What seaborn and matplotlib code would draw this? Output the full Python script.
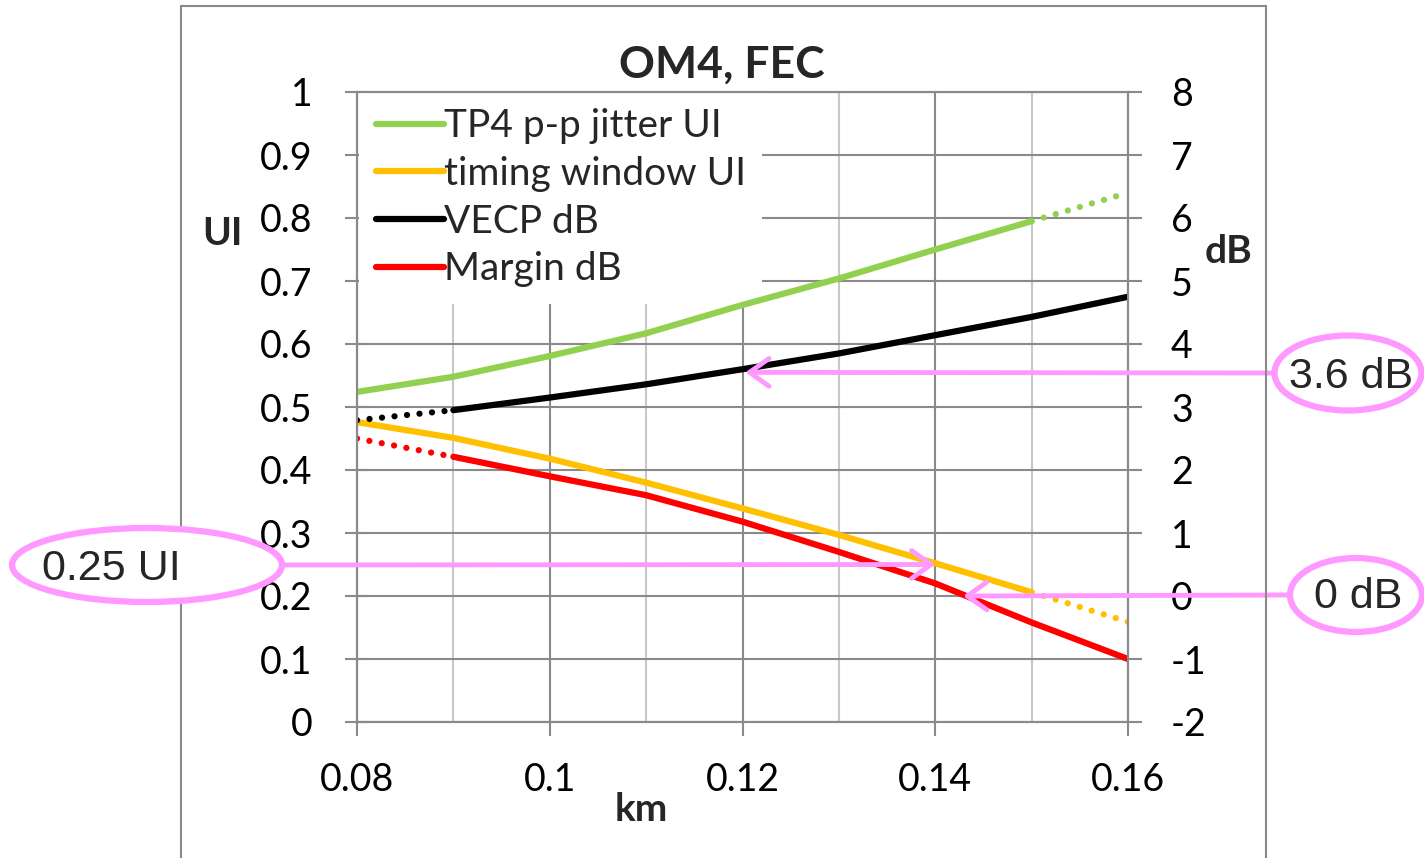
import numpy as np
import pandas as pd
import matplotlib
matplotlib.use("Agg")
import matplotlib.pyplot as plt
import matplotlib.ticker as mticker
from matplotlib.patches import Ellipse, Rectangle
import seaborn as sns

# values
km = [0.08, 0.09, 0.10, 0.11, 0.12, 0.13, 0.14, 0.15, 0.16]
jitter_ui = [0.524, 0.548, 0.581, 0.617, 0.662, 0.704, 0.750, 0.795, 0.840]
timing_ui = [0.476, 0.451, 0.418, 0.380, 0.339, 0.297, 0.252, 0.206, 0.159]
vecp_db = [2.79, 2.95, 3.15, 3.36, 3.60, 3.85, 4.14, 4.43, 4.75]
margin_db = [2.50, 2.21, 1.90, 1.60, 1.18, 0.70, 0.20, -0.42, -1.00]

ui_ticks = [0, 0.1, 0.2, 0.3, 0.4, 0.5, 0.6, 0.7, 0.8, 0.9, 1]
db_ticks = [-2, -1, 0, 1, 2, 3, 4, 5, 6, 7, 8]
km_ticks = [0.08, 0.10, 0.12, 0.14, 0.16]
km_minor = [0.09, 0.11, 0.13, 0.15]

# callouts: label, arrow tip (x km, y value), axis of the value
callout_text = ["3.6 dB", "0.25 UI", "0 dB"]
callout_tip = [(0.1203, 3.55), (0.14, 0.25), (0.1429, 0.0)]
callout_axis = ["dB", "UI", "dB"]

GREEN = "#92D050"
ORANGE = "#FFC000"
BLACK = "#000000"
RED = "#FF0000"
PINK = "#FF99FF"
GRID = "#8a8a8a"
MINOR = "#c8c8c8"

W, H = 1424, 858


def fx(px):
    return px / W


def fy(py):
    return 1 - py / H


def main():
    sns.set_theme(style="white")
    plt.rcParams["font.family"] = ["Lato", "DejaVu Sans"]

    df = pd.DataFrame({"km": km, "jitter": jitter_ui, "timing": timing_ui,
                       "vecp": vecp_db, "margin": margin_db})

    fig = plt.figure(figsize=(W / 100, H / 100), dpi=100)
    ax = fig.add_axes([fx(357), fy(722), fx(1128) - fx(357), fy(92) - fy(722)])
    ax2 = ax.twinx()

    lw = 4.5
    dots = (0, (0.01, 2.0))
    sns.lineplot(data=df.iloc[:8], x="km", y="jitter", ax=ax, color=GREEN, lw=lw,
                 label="TP4 p-p jitter UI", solid_capstyle="round", zorder=3)
    sns.lineplot(data=df.iloc[7:], x="km", y="jitter", ax=ax, color=GREEN, lw=lw,
                 linestyle=dots, dash_capstyle="round", label="_nolegend_", zorder=3)
    sns.lineplot(data=df.iloc[:8], x="km", y="timing", ax=ax, color=ORANGE, lw=lw,
                 label="timing window UI", solid_capstyle="round", zorder=3)
    sns.lineplot(data=df.iloc[7:], x="km", y="timing", ax=ax, color=ORANGE, lw=lw,
                 linestyle=dots, dash_capstyle="round", label="_nolegend_", zorder=3)
    sns.lineplot(data=df.iloc[1:], x="km", y="vecp", ax=ax2, color=BLACK, lw=lw,
                 label="VECP dB", solid_capstyle="round")
    sns.lineplot(data=df.iloc[:2], x="km", y="vecp", ax=ax2, color=BLACK, lw=lw,
                 linestyle=dots, dash_capstyle="round", label="_nolegend_")
    sns.lineplot(data=df.iloc[1:], x="km", y="margin", ax=ax2, color=RED, lw=lw,
                 label="Margin dB", solid_capstyle="round")
    sns.lineplot(data=df.iloc[:2], x="km", y="margin", ax=ax2, color=RED, lw=lw,
                 linestyle=dots, dash_capstyle="round", label="_nolegend_")

    for a in (ax, ax2):
        if a.get_legend() is not None:
            a.get_legend().remove()
        a.set_xlabel("")
        a.set_ylabel("")

    ax.set_xlim(0.08, 0.16)
    ax.set_ylim(0, 1)
    ax2.set_ylim(-2, 8)
    ax.set_xticks(km_ticks)
    ax.set_xticks(km_minor, minor=True)
    ax.set_yticks(ui_ticks)
    ax2.set_yticks(db_ticks)
    fmt = mticker.FuncFormatter(lambda v, p: f"{v:g}")
    ax.xaxis.set_major_formatter(fmt)
    ax.yaxis.set_major_formatter(fmt)
    ax2.yaxis.set_major_formatter(fmt)

    ax.grid(which="major", axis="both", color=GRID, lw=1.5)
    ax.grid(which="minor", axis="x", color=MINOR, lw=1.5)
    ax2.grid(False)
    ax.set_axisbelow(True)
    for a in (ax, ax2):
        for s in a.spines.values():
            s.set_color(GRID)
            s.set_linewidth(1.5)

    ax.tick_params(axis="y", direction="inout", length=18, width=1.5, color=GRID,
                   pad=23, labelsize=27, labelcolor="black", left=True)
    ax.tick_params(axis="x", which="major", direction="out", length=10, width=1.5,
                   color=GRID, pad=19, labelsize=27, labelcolor="black", bottom=True)
    ax.tick_params(axis="x", which="minor", length=0)
    ax2.tick_params(axis="y", direction="out", length=10, width=1.5, color=GRID,
                    pad=21, labelsize=27, labelcolor="black", right=True)

    # legend sits on the left axes, under the plotted lines but over the grid
    h1, l1 = ax.get_legend_handles_labels()
    h2, l2 = ax2.get_legend_handles_labels()
    leg = ax.legend(h1 + h2, l1 + l2, loc="upper left", bbox_to_anchor=(0.003, 1.0),
                    frameon=True, facecolor="white", edgecolor="none", framealpha=1,
                    fancybox=False, fontsize=28, handlelength=1.75, handletextpad=0.0,
                    labelspacing=0.3, borderpad=0.42, borderaxespad=0)
    leg.set_zorder(2)

    # titles and axis names
    fig.text(fx(722), fy(78), "OM4, FEC", fontsize=32, fontweight="bold",
             ha="center", va="baseline")
    fig.text(fx(222), fy(245), "UI", fontsize=28, fontweight="bold", ha="center", va="baseline")
    fig.text(fx(1228), fy(263), "dB", fontsize=28, fontweight="bold", ha="center", va="baseline")
    fig.text(fx(641), fy(821), "km", fontsize=28, fontweight="bold", ha="center", va="baseline")

    # chart area border
    fig.add_artist(Rectangle((fx(181), -0.05), fx(1266) - fx(181), fy(6) + 0.05,
                             transform=fig.transFigure, fill=False, edgecolor=GRID,
                             lw=1.5, zorder=0.5))

    # callouts
    boxes = [((1348, 373), 147, 75, (1351, 388), (1275, 373)),
             ((147, 565), 270, 74, (111, 580), (282, 565)),
             ((1356, 595), 132, 74, (1358, 608), (1290, 595))]
    narrow = ["Liberation Sans Narrow", "Liberation Sans", "DejaVu Sans"]
    for text, tip, axis, (c, w, h, tpos, start) in zip(callout_text, callout_tip,
                                                        callout_axis, boxes):
        fig.add_artist(Ellipse((fx(c[0]), fy(c[1])), w / W, h / H,
                               transform=fig.transFigure, facecolor="white",
                               edgecolor=PINK, lw=4.5, zorder=6))
        fig.text(fx(tpos[0]), fy(tpos[1]), text, fontsize=31, family=narrow,
                 ha="center", va="baseline", zorder=7)
        trans = ax2.transData if axis == "dB" else ax.transData
        ax2.annotate("", xy=tip, xycoords=trans,
                     xytext=(fx(start[0]), fy(start[1])), textcoords="figure fraction",
                     arrowprops=dict(arrowstyle="->,head_length=0.7,head_width=0.5",
                                     mutation_scale=20, color=PINK, lw=3.5,
                                     shrinkA=0, shrinkB=0, capstyle="round"),
                     annotation_clip=False, zorder=10)

    fig.savefig("out.png", dpi=100)


if __name__ == "__main__":
    main()
